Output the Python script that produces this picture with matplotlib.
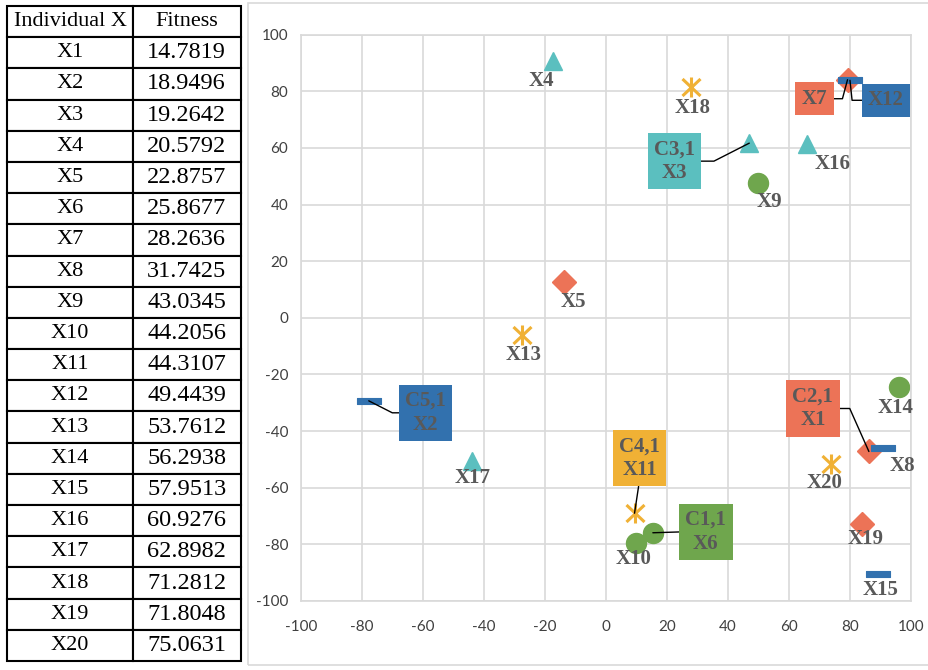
import numpy as np
import matplotlib.pyplot as plt
from matplotlib.path import Path
from matplotlib.patches import Rectangle

plt.rcParams['axes.unicode_minus'] = False

# individuals, their fitness and positions
names = ['X%d' % i for i in range(1, 21)]
fitness = [14.7819, 18.9496, 19.2642, 20.5792, 22.8757, 25.8677, 28.2636,
           31.7425, 43.0345, 44.2056, 44.3107, 49.4439, 53.7612, 56.2938,
           57.9513, 60.9276, 62.8982, 71.2812, 71.8048, 75.0631]
xs = [86.2, -77.7, 47.0, -17.4, -13.6, 15.4, 79.2, 90.7, 50.0, 9.9,
      9.4, 80.0, -27.5, 96.1, 89.3, 65.8, -43.8, 28.0, 84.0, 73.8]
ys = [-47.2, -29.3, 61.7, 90.8, 12.8, -75.9, 84.1, -45.8, 47.8, -79.6,
      -69.0, 83.9, -6.0, -24.3, -90.3, 61.4, -50.5, 81.5, -72.8, -51.6]
cluster = [2, 5, 3, 3, 2, 1, 2, 5, 1, 1, 4, 5, 4, 1, 5, 3, 3, 4, 2, 4]

ticks = [-100, -80, -60, -40, -20, 0, 20, 40, 60, 80, 100]

# marker shapes
star = Path([(0, -1), (0, 1), (-0.9, -0.85), (0.9, 0.85), (-0.9, 0.85), (0.9, -0.85)],
            [Path.MOVETO, Path.LINETO] * 3)
dash = Path([(-1, -0.3), (1, -0.3), (1, 0.3), (-1, 0.3), (-1, -0.3)],
            [Path.MOVETO, Path.LINETO, Path.LINETO, Path.LINETO, Path.CLOSEPOLY])

colors = {1: '#6FA64D', 2: '#EC7357', 3: '#5BBFBF', 4: '#F0B135', 5: '#3271AE'}
styles = {
    1: dict(marker='o', markersize=14.4),
    2: dict(marker='D', markersize=11.8),
    3: dict(marker='^', markersize=13.5),
    4: dict(marker=star, markersize=14.4, markerfacecolor='none', markeredgewidth=2.2),
    5: dict(marker=dash, markersize=16.6, markeredgewidth=0.8),
}

# label offsets in pixels (right, up)
label_off = {
    'X4': (-11, -20), 'X5': (9, -20), 'X13': (2, -20), 'X17': (0, -17),
    'X18': (1, -21), 'X16': (26, -20), 'X9': (11, -19), 'X10': (-3, -16),
    'X14': (-4, -21), 'X8': (20, -18), 'X20': (-7, -19), 'X19': (3, -15),
    'X15': (2, -16),
}
# boxed labels: offset, attach point on box, leader angles
box_off = {
    'X3': ((-75, -18), (1, 0.5), 'angle,angleA=0,angleB=27,rad=0'),
    'X7': ((-33, -19), (1, 0.5), 'angle,angleA=0,angleB=75,rad=0'),
    'X12': ((36, -20), (0, 0.5), 'angle,angleA=0,angleB=96,rad=0'),
    'X2': ((57, -12), (0, 0.5), 'angle,angleA=0,angleB=153,rad=0'),
    'X11': ((5, 55), (0.5, 0), 'arc3,rad=0'),
    'X6': ((53, 1), (0, 0.5), 'arc3,rad=0'),
    'X1': ((-56, 43), (1, 0.5), 'angle,angleA=0,angleB=-66,rad=0'),
}

serif = 'Liberation Serif'
grey = '#595959'

fig = plt.figure(figsize=(9.29, 6.70), dpi=100)

# chart area frame
fig.patches.append(Rectangle((247.7 / 929, 5 / 670), 0.99, 662 / 670, transform=fig.transFigure,
                             fill=False, ec='#D9D9D9', lw=1.2))

ax = fig.add_axes([300.7 / 929, 1 - 601 / 670, 610.3 / 929, 566.3 / 670])
ax.set_xlim(-100, 100)
ax.set_ylim(-100, 100)
ax.set_xticks(ticks)
ax.set_yticks(ticks)
ax.grid(True, color='#D9D9D9', lw=1.2)
ax.set_axisbelow(True)
for s in ax.spines.values():
    s.set_color('#D9D9D9')
    s.set_linewidth(1.2)
ax.tick_params(length=0, labelsize=11, labelcolor='#404040', pad=9)
for lab in ax.get_xticklabels() + ax.get_yticklabels():
    lab.set_family('Lato')
ax.tick_params(axis='x', pad=14)

xs_a = np.array(xs)
ys_a = np.array(ys)
cl = np.array(cluster)
for k in range(1, 6):
    m = cl == k
    st = dict(styles[k])
    ax.plot(xs_a[m], ys_a[m], ls='none', color=colors[k], markeredgecolor=colors[k], **st)

# head of each cluster is its fittest member
heads = {}
for k in range(1, 6):
    idx = [i for i in range(len(names)) if cluster[i] == k]
    heads[names[min(idx, key=lambda i: fitness[i])]] = k

for i, n in enumerate(names):
    k = cluster[i]
    if n in box_off:
        off, rel, conn = box_off[n]
        txt = 'C%d,1\n%s' % (k, n) if n in heads else n
        ax.annotate(txt, (xs[i], ys[i]), xytext=off, textcoords='offset pixels',
                    ha='center', va='center', fontsize=15, fontweight='bold',
                    family=serif, color=grey, linespacing=1.25,
                    bbox=dict(boxstyle='square,pad=0.3', fc=colors[k], ec='none'),
                    arrowprops=dict(arrowstyle='-', color='black', lw=1.0, relpos=rel,
                                    shrinkA=0, shrinkB=0, connectionstyle=conn))
    else:
        ax.annotate(n, (xs[i], ys[i]), xytext=label_off[n], textcoords='offset pixels',
                    ha='center', va='center', fontsize=15, fontweight='bold',
                    family=serif, color=grey)

# fitness table
tax = fig.add_axes([7.3 / 929, 9 / 670, 233.4 / 929, 655 / 670])
tax.axis('off')
rows = [[n, '%.4f' % f] for n, f in zip(names, fitness)]
tab = tax.table(cellText=rows, colLabels=['Individual X', 'Fitness'],
                cellLoc='center', bbox=[0, 0, 1, 1], colWidths=[125.4, 108])
tab.auto_set_font_size(False)
for (r, c), cell in tab.get_celld().items():
    cell.set_linewidth(1.5)
    cell.set_edgecolor('black')
    t = cell.get_text()
    t.set_family(serif)
    t.set_fontsize(17.5 if (c == 1 and r > 0) else 16)

fig.savefig('out.png', dpi=100)
